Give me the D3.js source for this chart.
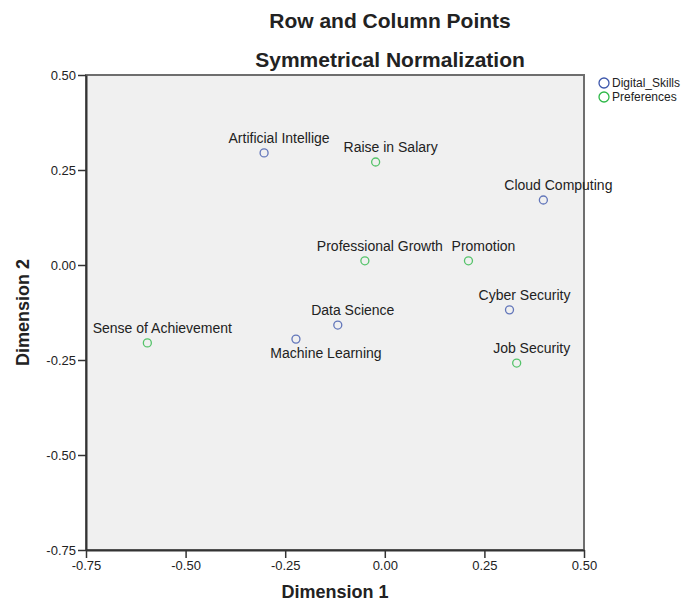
<!DOCTYPE html>
<html>
<head>
<meta charset="utf-8">
<script src="https://cdn.jsdelivr.net/npm/d3@7"></script>
<style>
  html, body { margin: 0; padding: 0; background: #ffffff; }
  svg { display: block; font-family: "Liberation Sans", Arial, sans-serif; }
</style>
</head>
<body>
<svg id="chart" width="693" height="604"></svg>
<script>
// ---- Data ----
const seriesNames = ["Digital_Skills", "Preferences"];

const rowCategories = ["Artificial Intellige", "Cloud Computing", "Cyber Security", "Data Science", "Machine Learning"];
const rowDim1 = [-0.303, 0.398, 0.313, -0.118, -0.223];
const rowDim2 = [0.295, 0.171, -0.118, -0.158, -0.195];

const colCategories = ["Raise in Salary", "Professional Growth", "Promotion", "Job Security", "Sense of Achievement"];
const colDim1 = [-0.023, -0.050, 0.210, 0.331, -0.596];
const colDim2 = [0.271, 0.011, 0.011, -0.258, -0.205];

const xTicks = [-0.75, -0.50, -0.25, 0.00, 0.25, 0.50];
const yTicks = [-0.75, -0.50, -0.25, 0.00, 0.25, 0.50];

const chartTitle = "Row and Column Points";
const chartSubtitle = "Symmetrical Normalization";
const xTitle = "Dimension 1";
const yTitle = "Dimension 2";

// ---- Styling / layout ----
const colors = { "Digital_Skills": "#3E58AC", "Preferences": "#2EB848" };
const plot = { left: 86, right: 584, top: 75, bottom: 550 };
// labels placed below their point (SPSS label collision avoidance)
const labelsBelow = new Set(["Machine Learning"]);

const svg = d3.select("#chart");

const x = d3.scaleLinear().domain([-0.75, 0.5]).range([plot.left, plot.right]);
const y = d3.scaleLinear().domain([-0.75, 0.5]).range([plot.bottom, plot.top]);

// plot background
svg.append("rect")
  .attr("x", plot.left).attr("y", plot.top)
  .attr("width", plot.right - plot.left).attr("height", plot.bottom - plot.top)
  .attr("fill", "#F0F0F0")
  .attr("stroke", "#6e6e6e")
  .attr("stroke-width", 2);

// axes
const fmt = d3.formatLocale({ decimal: ".", thousands: ",", grouping: [3], currency: ["$", ""], minus: "-" }).format(".2f");
const yAxis = svg.append("g")
  .attr("transform", `translate(${plot.left},0)`)
  .call(d3.axisLeft(y).tickValues(yTicks).tickFormat(fmt).tickSize(8).tickSizeOuter(0).tickPadding(2));
const xAxis = svg.append("g")
  .attr("transform", `translate(0,${plot.bottom})`)
  .call(d3.axisBottom(x).tickValues(xTicks).tickFormat(fmt).tickSize(8).tickSizeOuter(0).tickPadding(3));

[xAxis, yAxis].forEach(ax => {
  ax.select(".domain").attr("stroke", "#333").attr("stroke-width", 2);
  ax.selectAll(".tick line").attr("stroke", "#333").attr("stroke-width", 1.5);
  ax.selectAll(".tick text")
    .attr("fill", "#222")
    .style("font-size", "13px")
    .style("font-family", "'Liberation Sans', Arial, sans-serif");
});

// titles
svg.append("text").attr("x", 390).attr("y", 28).attr("text-anchor", "middle")
  .style("font-size", "21px").style("font-weight", "bold").attr("fill", "#222").text(chartTitle);
svg.append("text").attr("x", 390).attr("y", 67).attr("text-anchor", "middle")
  .style("font-size", "21px").style("font-weight", "bold").attr("fill", "#222").text(chartSubtitle);

svg.append("text").attr("x", (plot.left + plot.right) / 2).attr("y", 598).attr("text-anchor", "middle")
  .style("font-size", "18px").style("font-weight", "bold").attr("fill", "#222").text(xTitle);
svg.append("text")
  .attr("transform", `translate(29,${(plot.top + plot.bottom) / 2}) rotate(-90)`)
  .attr("text-anchor", "middle")
  .style("font-size", "18px").style("font-weight", "bold").attr("fill", "#222").text(yTitle);

// points
const points = [];
rowCategories.forEach((c, i) => points.push({ name: c, d1: rowDim1[i], d2: rowDim2[i], series: seriesNames[0] }));
colCategories.forEach((c, i) => points.push({ name: c, d1: colDim1[i], d2: colDim2[i], series: seriesNames[1] }));

const g = svg.append("g");
g.selectAll("circle.pt").data(points).join("circle")
  .attr("class", "pt")
  .attr("cx", d => x(d.d1)).attr("cy", d => y(d.d2))
  .attr("r", 4)
  .attr("fill", "none")
  .attr("stroke", d => colors[d.series])
  .attr("stroke-width", 1.3)
  .attr("stroke-opacity", 0.8);

g.selectAll("text.lbl").data(points).join("text")
  .attr("class", "lbl")
  .attr("x", d => x(d.d1) + (labelsBelow.has(d.name) ? 30 : 15))
  .attr("y", d => y(d.d2) + (labelsBelow.has(d.name) ? 19 : -10))
  .attr("text-anchor", "middle")
  .style("font-size", "14px")
  .attr("fill", "#222")
  .text(d => d.name);

// legend
const legend = svg.append("g");
seriesNames.forEach((s, i) => {
  const ly = 83 + i * 14;
  legend.append("circle").attr("cx", 604).attr("cy", ly).attr("r", 5)
    .attr("fill", "none").attr("stroke", colors[s]).attr("stroke-width", 1.3);
  legend.append("text").attr("x", 612).attr("y", ly + 4)
    .style("font-size", "12px").attr("fill", "#222").text(s);
});
</script>
</body>
</html>
